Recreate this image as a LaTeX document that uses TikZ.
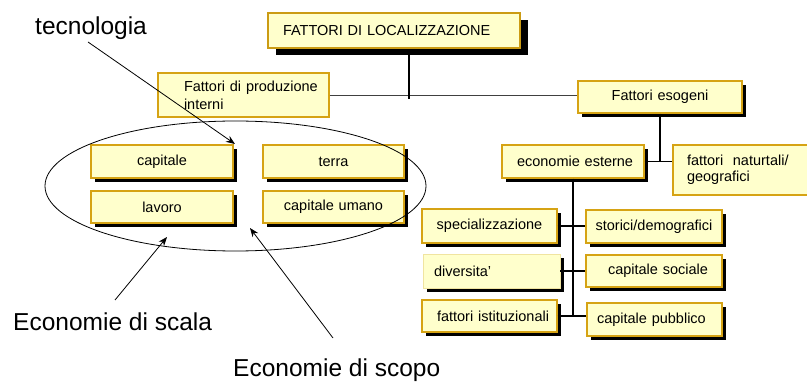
\documentclass[tikz,border=0pt]{standalone}
\usepackage{fontspec}
\setmainfont{Liberation Sans}
\usetikzlibrary{shadows,arrows.meta,shapes.geometric}
\definecolor{boxfill}{RGB}{255,255,204}
\definecolor{boxgold}{RGB}{214,163,20}
\definecolor{palegold}{RGB}{240,228,160}
\begin{document}
\begin{tikzpicture}[x=1pt,y=-1pt,
  box/.style={draw=boxgold, fill=boxfill, line width=1.1pt, inner sep=0pt,
    font=\fontsize{14.5}{17}\selectfont, align=left},
  shad/.style={general shadow={fill=black, shadow xshift=4pt, shadow yshift=-4pt}},
  conn/.style={line width=1.8pt, black},
  thinconn/.style={line width=0.9pt, black!75},
  big/.style={font=\fontsize{24.5}{28}\selectfont, inner sep=0pt},
  arr/.style={line width=0.8pt, -{Stealth[length=9pt,width=7pt]}}]
\useasboundingbox (0,0) rectangle (807,382);

% top box
\node[box, line width=2.6pt, draw=boxgold!95!black, general shadow={fill=black, shadow xshift=8pt, shadow yshift=-7pt},
  text width=252pt, minimum height=35pt] (top) at (394,30.5) {\hspace*{15pt}FATTORI DI LOCALIZZAZIONE};

% level 2
\node[box, text width=171pt, minimum height=44pt, font=\fontsize{14.5}{18}\selectfont] (prod) at (243.5,95)
  {\hspace*{26pt}Fattori di produzione\\\hspace*{26pt}interni};
\node[box, shad, text width=164pt, minimum height=32pt, align=center] (esog) at (660,97) {Fattori esogeni};

% left group
\node[box, shad, text width=142pt, minimum height=33pt, align=center] (cap) at (162,161.5) {capitale};
\node[box, shad, text width=141pt, minimum height=33pt, align=center] (terra) at (333.5,161.5) {terra};
\node[box, shad, text width=142pt, minimum height=32pt, align=center] (lav) at (162,207) {lavoro};
\node[box, shad, text width=141pt, minimum height=32pt, align=center] (umano) at (333.5,207) {capitale umano};
\node[draw, line width=0.8pt, ellipse, minimum width=381pt, minimum height=130pt, inner sep=0pt] (ell) at (235.5,186) {};

% right group
\node[box, shad, text width=142pt, minimum height=33pt] (econ) at (573,161.5) {\hspace*{15pt}economie esterne};
\node[box, text width=140pt, minimum height=50pt, font=\fontsize{14.5}{16}\selectfont] (nat) at (743,170)
  {\hspace*{14pt}fattori~ naturtali/\\\hspace*{14pt}geografici};

\node[box, shad, text width=135pt, minimum height=34pt, align=center] (spec) at (489.5,226) {specializzazione};
\node[box, shad, text width=136pt, minimum height=33pt, align=center] (stor) at (654,226.5) {storici/demografici};
\node[box, shad, draw=palegold, line width=0.8pt, text width=137pt, minimum height=34pt] (div) at (491.5,271) {\hspace*{11pt}diversita’};
\node[box, shad, text width=136pt, minimum height=32pt] (soc) at (654,271) {\hspace*{22pt}capitale sociale};
\node[box, shad, text width=135pt, minimum height=32pt] (ist) at (489.5,316) {\hspace*{15pt}fattori istituzionali};
\node[box, shad, text width=135pt, minimum height=33pt] (pub) at (654.5,319.5) {\hspace*{10pt}capitale pubblico};

% connectors
\coordinate (j1) at (409,95);
\draw[thinconn] (prod.east) -- (prod.east -| esog.west);
\draw[conn] (top.south -| j1) -- ([yshift=-4pt]j1);
\draw[conn] (esog.south) -- (esog.south |- econ.east);
\draw[conn] (econ.east) -- (econ.east -| nat.west);
\draw[conn] (econ.south) -- (econ.south |- ist.east);
\draw[conn] (spec.east) -- (spec.east -| stor.west);
\draw[conn] (div.east) -- (div.east -| soc.west);
\draw[conn] (ist.east) -- (ist.east -| pub.west);

% labels and arrows
\node[big, anchor=base west] (tec) at (35,35) {tecnologia};
\node[big, anchor=base west] (scala) at (13,331) {Economie di scala};
\node[big, anchor=base west] (scopo) at (233,377) {Economie di scopo};
\coordinate (tecS) at (88,42);
\coordinate (tecE) at (235,144);
\coordinate (scalaS) at (115,300);
\coordinate (scalaE) at (167,237);
\coordinate (scopoS) at (333,338);
\coordinate (scopoE) at (250,228);
\draw[arr] (tecS) -- (tecE);
\draw[arr] (scalaS) -- (scalaE);
\draw[arr] (scopoS) -- (scopoE);
\end{tikzpicture}
\end{document}
